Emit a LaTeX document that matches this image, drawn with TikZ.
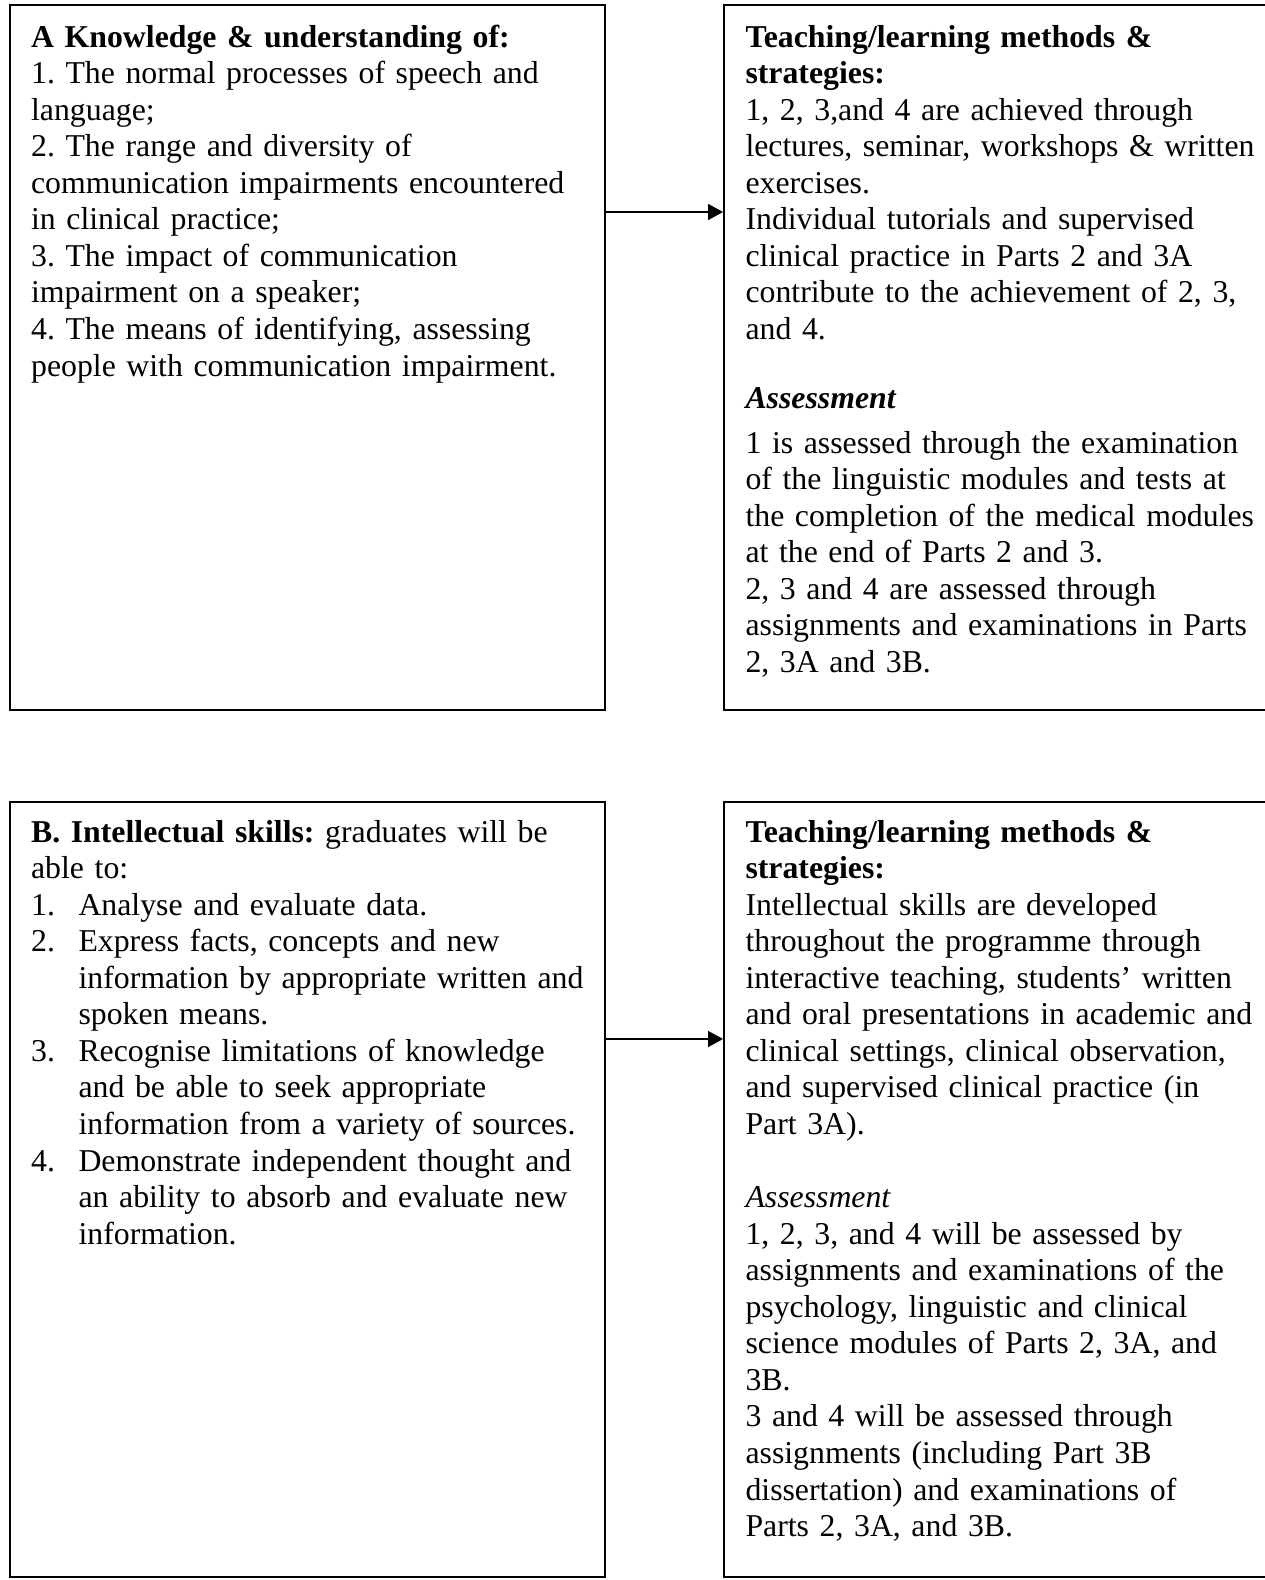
\documentclass[tikz,border=0pt]{standalone}
\usepackage{fontspec}
\setmainfont{Liberation Serif}
\usetikzlibrary{arrows.meta,fit}
\newlength\hind
\setlength\hind{17.9pt}
\frenchspacing
\tikzset{
  boxnode/.style={draw, line width=0.65pt, inner sep=0pt},
  txt/.style={anchor=base west, inner sep=0pt, text width=215pt, align=left,
    font=\fontsize{12pt}{13.8pt}\selectfont\frenchspacing},
  conn/.style={line width=0.65pt, -{Triangle[length=5.7pt,width=6pt]}}
}
\begin{document}
\begin{tikzpicture}[x=0.3775pt,y=-0.3775pt]
\useasboundingbox (0,0) rectangle (1265,1580);
% box corners
\coordinate (a1) at (10,5);   \coordinate (a2) at (605,710);
\coordinate (b1) at (724,5);  \coordinate (b2) at (1268,710);
\coordinate (c1) at (10,802); \coordinate (c2) at (605,1577);
\coordinate (d1) at (724,802);\coordinate (d2) at (1268,1577);
\node[boxnode, fit=(a1)(a2)] (A) {};
\node[boxnode, fit=(b1)(b2)] (TA) {};
\node[boxnode, fit=(c1)(c2)] (B) {};
\node[boxnode, fit=(d1)(d2)] (TB) {};

\node[txt] (Atxt) at (30.6,47) {\textbf{A Knowledge \& understanding of:}\\
1. The normal processes of speech and\\
language;\\
2. The range and diversity of\\
communication impairments encountered\\
in clinical practice;\\
3. The impact of communication\\
impairment on a speaker;\\
4. The means of identifying, assessing\\
people with communication impairment.};

\node[txt] (TAtxt) at (745,47) {\textbf{Teaching/learning methods \&}\\
\textbf{strategies:}\\
1, 2, 3,and 4 are achieved through\\
lectures, seminar, workshops \& written\\
exercises.\\
Individual tutorials and supervised\\
clinical practice in Parts 2 and 3A\\
contribute to the achievement of 2, 3,\\
and 4.};

\node[txt] (TAass) at (745,408) {\textbf{\textit{Assessment}}\\[3.2pt]
1 is assessed through the examination\\
of the linguistic modules and tests at\\
the completion of the medical modules\\
at the end of Parts 2 and 3.\\
2, 3 and 4 are assessed through\\
assignments and examinations in Parts\\
2, 3A and 3B.};

\node[txt] (Btxt) at (30.6,842) {\textbf{B. Intellectual skills:} graduates will be\\
able to:\\
\makebox[\hind][l]{1.}Analyse and evaluate data.\\
\makebox[\hind][l]{2.}Express facts, concepts and new\\
\hspace*{\hind}information by appropriate written and\\
\hspace*{\hind}spoken means.\\
\makebox[\hind][l]{3.}Recognise limitations of knowledge\\
\hspace*{\hind}and be able to seek appropriate\\
\hspace*{\hind}information from a variety of sources.\\
\makebox[\hind][l]{4.}Demonstrate independent thought and\\
\hspace*{\hind}an ability to absorb and evaluate new\\
\hspace*{\hind}information.};

\node[txt] (TBtxt) at (745,842) {\textbf{Teaching/learning methods \&}\\
\textbf{strategies:}\\
Intellectual skills are developed\\
throughout the programme through\\
interactive teaching, students’ written\\
and oral presentations in academic and\\
clinical settings, clinical observation,\\
and supervised clinical practice (in\\
Part 3A).\\
\mbox{}\\
\textit{Assessment}\\
1, 2, 3, and 4 will be assessed by\\
assignments and examinations of the\\
psychology, linguistic and clinical\\
science modules of Parts 2, 3A, and\\
3B.\\
3 and 4 will be assessed through\\
assignments (including Part 3B\\
dissertation) and examinations of\\
Parts 2, 3A, and 3B.};

\coordinate (y1) at (0,212);
\coordinate (y2) at (0,1039);
\draw[conn] (A.east |- y1) -- (TA.west |- y1);
\draw[conn] (B.east |- y2) -- (TB.west |- y2);
\end{tikzpicture}
\end{document}
